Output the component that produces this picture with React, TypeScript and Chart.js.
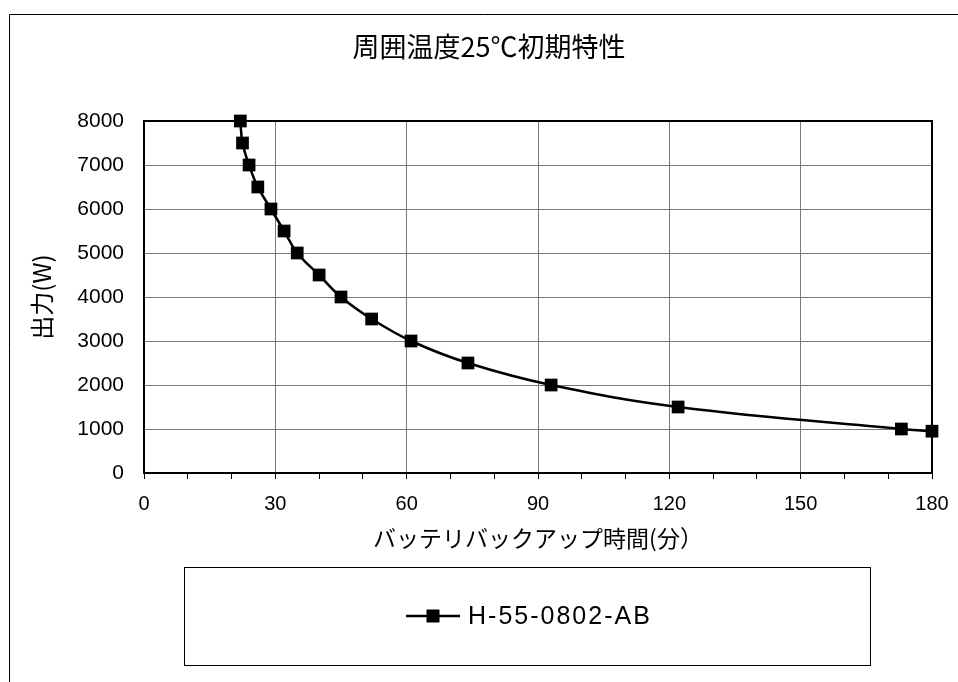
import React, { useEffect, useRef } from 'react';
import { Chart, registerables } from 'chart.js';

Chart.register(...registerables);

const chartTitle = '周囲温度25℃初期特性';
const xAxisTitle = 'バッテリバックアップ時間(分）';
const yAxisTitle = '出力(W)';
const seriesName = 'H-55-0802-AB';

const backupMinutes = [22, 22.5, 24, 26, 29, 32, 35, 40, 45, 52, 61, 74, 93, 122, 173, 180];
const outputWatts = [8000, 7500, 7000, 6500, 6000, 5500, 5000, 4500, 4000, 3500, 3000, 2500, 2000, 1500, 1000, 950];

const xMin = 0;
const xMax = 180;
const xMajorStep = 30;
const xMinorStep = 10;
const yMin = 0;
const yMax = 8000;
const yStep = 1000;

const W = 958;
const H = 682;

const decorPlugin = {
  id: 'decor',
  beforeDraw(chart: any) {
    const ctx = chart.ctx;
    ctx.save();
    ctx.fillStyle = '#fff';
    ctx.fillRect(0, 0, chart.width, chart.height);
    ctx.strokeStyle = '#000';
    ctx.lineWidth = 1;
    ctx.beginPath();
    ctx.moveTo(9.5, H);
    ctx.lineTo(9.5, 14.5);
    ctx.lineTo(W, 14.5);
    ctx.stroke();
    ctx.restore();
  },
  beforeDatasetsDraw(chart: any) {
    const { ctx, chartArea } = chart;
    ctx.save();
    ctx.strokeStyle = '#000';
    ctx.lineWidth = 2;
    ctx.strokeRect(chartArea.left, chartArea.top, chartArea.right - chartArea.left, chartArea.bottom - chartArea.top);
    ctx.restore();
  },
  afterDraw(chart: any) {
    const ctx = chart.ctx;
    ctx.save();
    ctx.fillStyle = '#000';
    ctx.font = '27px "Noto Sans CJK JP"';
    ctx.textAlign = 'center';
    ctx.textBaseline = 'middle';
    ctx.fillText(chartTitle, 489, 47);

    ctx.strokeStyle = '#000';
    ctx.lineWidth = 1;
    ctx.strokeRect(184.5, 567.5, 686, 98);
    const ly = 616;
    ctx.lineWidth = 2.5;
    ctx.beginPath();
    ctx.moveTo(406, ly);
    ctx.lineTo(460, ly);
    ctx.stroke();
    ctx.fillRect(433 - 6.5, ly - 6.5, 13, 13);
    ctx.font = '25px "Liberation Sans"';
    (ctx as any).letterSpacing = '2px';
    ctx.textAlign = 'left';
    ctx.textBaseline = 'middle';
    ctx.fillText(seriesName, 468, ly + 1);
    ctx.restore();
  },
};

export default function App() {
  const ref = useRef<HTMLCanvasElement | null>(null);

  useEffect(() => {
    if (!ref.current) return;
    const points = backupMinutes.map((x, i) => ({ x, y: outputWatts[i] }));
    const chart = new Chart(ref.current, {
      type: 'scatter',
      data: {
        datasets: [
          {
            label: seriesName,
            data: points,
            showLine: true,
            borderColor: '#000',
            borderWidth: 2.5,
            backgroundColor: '#000',
            pointStyle: 'rect',
            pointRadius: 9,
            pointBorderWidth: 0,
            pointBackgroundColor: '#000',
            tension: 0.4,
            clip: false as any,
          },
        ],
      },
      options: {
        responsive: false,
        animation: false,
        devicePixelRatio: 1,
        layout: { padding: { left: 0, right: 26, top: 121, bottom: 122 } },
        plugins: {
          legend: { display: false },
          title: { display: false },
          tooltip: { enabled: false },
        },
        scales: {
          x: {
            type: 'linear',
            min: xMin,
            max: xMax,
            afterFit(s: any) {
              s.height = 87;
              s.paddingLeft = 0;
              s.paddingRight = 0;
            },
            ticks: {
              stepSize: xMinorStep,
              autoSkip: false,
              maxRotation: 0,
              padding: 13,
              color: '#000',
              font: { family: '"Liberation Sans"', size: 20 },
              callback: (v: any) => (Number(v) % xMajorStep === 0 ? String(v) : ''),
            },
            grid: {
              color: (c: any) =>
                c.tick && c.tick.value % xMajorStep === 0 ? '#7a7a7a' : 'rgba(0,0,0,0)',
              lineWidth: 1,
              drawTicks: true,
              tickLength: 6,
              tickColor: '#000',
              tickWidth: 1,
            },
            border: { color: '#000', width: 2 },
            title: {
              display: true,
              text: xAxisTitle,
              color: '#000',
              font: { family: '"Noto Sans CJK JP"', size: 23 },
              padding: { top: 0, bottom: 8 },
            },
          },
          y: {
            type: 'linear',
            min: yMin,
            max: yMax,
            afterFit(s: any) {
              s.width = 144;
              s.paddingTop = 0;
              s.paddingBottom = 0;
            },
            ticks: {
              stepSize: yStep,
              padding: 20,
              color: '#000',
              font: { family: '"Liberation Sans"', size: 21 },
              callback: (v: any) => String(v),
            },
            grid: {
              color: '#7a7a7a',
              lineWidth: 1,
              drawTicks: false,
            },
            border: { color: '#000', width: 2 },
            title: {
              display: true,
              text: yAxisTitle,
              color: '#000',
              font: { family: '"Noto Sans CJK JP"', size: 24 },
              padding: { top: 27, bottom: 0 },
            },
          },
        },
      },
      plugins: [decorPlugin],
    });
    return () => chart.destroy();
  }, []);

  return (
    <div style={{ position: 'absolute', left: 0, top: 0, width: W, height: H }}>
      <canvas ref={ref} width={W} height={H} style={{ display: 'block', width: W, height: H }} />
    </div>
  );
}
